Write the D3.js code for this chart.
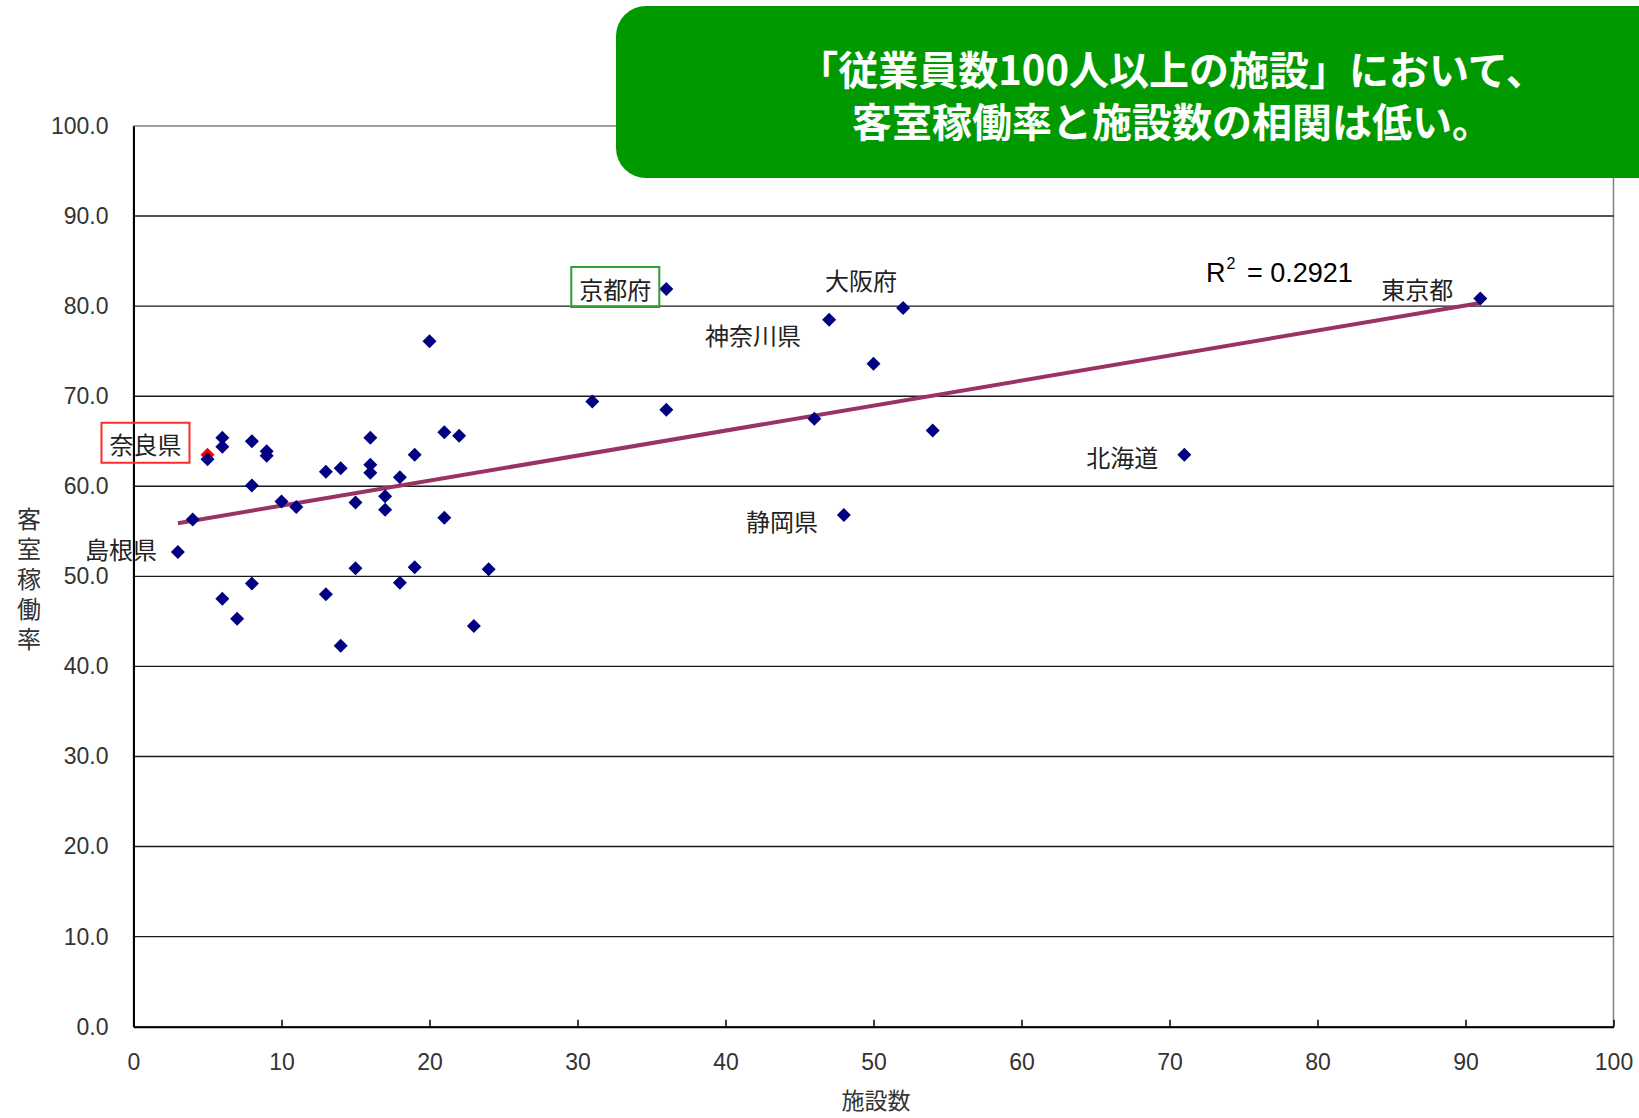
<!DOCTYPE html>
<html>
<head>
<meta charset="utf-8">
<script src="https://cdn.jsdelivr.net/npm/d3@7"></script>
<style>
  body { margin: 0; background: #fff; }
  svg { display: block; }
</style>
</head>
<body>
<div id="chart"></div>
<script>
// data (施設数, 客室稼働率)
const facilities = [5, 3, 4, 5, 6, 6, 6, 7, 8, 8, 8, 9, 9, 10, 11, 13, 13, 14, 14, 15, 15, 16, 16, 16,
    17, 17, 18, 18, 19, 19, 20, 21, 21, 22, 23, 24, 31, 36, 36, 46, 47, 48, 50, 52, 54, 71, 91];
const occupancy = [63.5, 52.7, 56.3, 63.0, 65.4, 64.4, 47.5, 45.3, 65.0, 60.1, 49.2, 63.9, 63.4, 58.3, 57.7, 61.6, 48.0, 62.0, 42.3, 58.2, 50.9, 65.4, 62.4, 61.5,
    58.9, 57.4, 61.0, 49.3, 63.5, 51.0, 76.1, 66.0, 56.5, 65.6, 44.5, 50.8, 69.4, 81.9, 68.5, 67.5, 78.5, 56.8, 73.6, 79.8, 66.2, 63.5, 80.85];
const prefNames = ["奈良県", "島根県", "", "", "", "", "", "", "", "", "", "", "", "", "", "", "", "", "", "", "", "", "", "",
    "", "", "", "", "", "", "", "", "", "", "", "", "", "京都府", "", "", "神奈川県", "静岡県", "", "大阪府", "", "北海道", "東京都"];

// trend line ends as drawn in the picture
const trendX = [3, 91];
const trendY = [55.9, 80.35];
const rSquared = "0.2921";

const xTicks = [0, 10, 20, 30, 40, 50, 60, 70, 80, 90, 100];
const yTicks = [0, 10, 20, 30, 40, 50, 60, 70, 80, 90, 100];

const titleLines = ["「従業員数100人以上の施設」において、", "客室稼働率と施設数の相関は低い。"];

// label placement relative to its point
const labelStyle = {
    "奈良県": { dx: -26, dy: -11, box: "#ff2a2a" },
    "島根県": { dx: -21, dy: -4 },
    "京都府": { dx: -15, dy: -1, box: "#2ba02b" },
    "神奈川県": { dx: -28, dy: 15 },
    "静岡県": { dx: -26, dy: 5 },
    "大阪府": { dx: -6, dy: -28 },
    "北海道": { dx: -26, dy: 1.5 },
    "東京都": { dx: -27, dy: -10 }
};

let svgWidth = 1639;
let svgHeight = 1118;
let plot = { left: 133.5, right: 1613.5, top: 126, bottom: 1026.7 };

let svg = d3.select("#chart")
    .append("svg")
    .attr("width", svgWidth)
    .attr("height", svgHeight);

let x = d3.scaleLinear().domain([0, 100]).range([plot.left, plot.right]);
let y = d3.scaleLinear().domain([0, 100]).range([plot.bottom, plot.top]);

const numFont = "'Liberation Sans', Arial, sans-serif";
const jpFont = "'Noto Sans CJK JP', sans-serif";

// plot border (top/right grey)
svg.append("rect")
    .attr("x", plot.left).attr("y", plot.top)
    .attr("width", plot.right - plot.left).attr("height", plot.bottom - plot.top)
    .attr("fill", "none").attr("stroke", "#808080").attr("stroke-width", 1.5);

// gridlines
svg.append("g")
    .selectAll("line")
    .data(yTicks.filter(d => d > 0 && d < 100))
    .join("line")
    .attr("x1", plot.left).attr("x2", plot.right)
    .attr("y1", d => y(d)).attr("y2", d => y(d))
    .attr("stroke", "#1a1a1a").attr("stroke-width", 1.4);

// y axis
let leftAxis = d3.axisLeft(y).tickValues(yTicks).tickSize(0).tickPadding(25).tickFormat(d3.format(".1f"));
let gy = svg.append("g")
    .attr("transform", `translate(${plot.left},0)`)
    .call(leftAxis);
gy.select(".domain").attr("stroke", "#000").attr("stroke-width", 2);
gy.selectAll("text")
    .attr("font-family", numFont).attr("font-size", 23).attr("fill", "#333");

// x axis, ticks point inward
let bottomAxis = d3.axisBottom(x).tickValues(xTicks).tickSizeInner(-7).tickSizeOuter(0).tickPadding(27);
let gx = svg.append("g")
    .attr("transform", `translate(0,${plot.bottom})`)
    .call(bottomAxis);
gx.select(".domain").attr("stroke", "#000").attr("stroke-width", 2);
gx.selectAll(".tick line").attr("stroke", "#000").attr("stroke-width", 1.5);
gx.selectAll("text")
    .attr("font-family", numFont).attr("font-size", 23).attr("fill", "#333");

// axis titles
svg.append("text")
    .attr("x", 876).attr("y", 1099)
    .attr("text-anchor", "middle").attr("dominant-baseline", "central")
    .attr("font-family", jpFont).attr("font-size", 23).attr("fill", "#333")
    .text("施設数");

svg.append("text")
    .attr("x", 29).attr("y", 507)
    .attr("writing-mode", "tb")
    .attr("letter-spacing", 6)
    .attr("font-family", jpFont).attr("font-size", 24).attr("fill", "#333")
    .text("客室稼働率");

// trend line
svg.append("line")
    .attr("x1", x(trendX[0])).attr("y1", y(trendY[0]))
    .attr("x2", x(trendX[1])).attr("y2", y(trendY[1]))
    .attr("stroke", "#993366").attr("stroke-width", 4);

// points
let points = facilities.map((f, i) => ({ f: f, o: occupancy[i], name: prefNames[i] }));

svg.append("g")
    .selectAll("path")
    .data(points)
    .join("path")
    .attr("d", "M0,-7L7,0L0,7L-7,0Z")
    .attr("transform", d => `translate(${x(d.f)},${y(d.o)})`)
    .attr("fill", d => d.name === "奈良県" ? "#ff0000" : "#000080");

// prefecture labels
let labelled = points.filter(d => d.name !== "");
let labels = svg.append("g")
    .selectAll("g")
    .data(labelled)
    .join("g")
    .attr("transform", d => `translate(${x(d.f) + labelStyle[d.name].dx},${y(d.o) + labelStyle[d.name].dy})`);

labels.append("text")
    .attr("text-anchor", "end").attr("dominant-baseline", "central")
    .attr("font-family", jpFont).attr("font-size", 24).attr("fill", "#222")
    .text(d => d.name);

labels.filter(d => labelStyle[d.name].box)
    .append("rect")
    .attr("x", d => -d.name.length * 24 - 8)
    .attr("y", -21)
    .attr("width", d => d.name.length * 24 + 16)
    .attr("height", 40)
    .attr("fill", "none")
    .attr("stroke", d => labelStyle[d.name].box)
    .attr("stroke-width", 2);

// R squared
let rText = svg.append("text")
    .attr("x", 1206).attr("y", 282)
    .attr("font-family", numFont).attr("font-size", 27).attr("fill", "#000");
rText.append("tspan").text("R");
rText.append("tspan").attr("font-size", 16).attr("dy", -13).attr("dx", 1).text("2");
rText.append("tspan").attr("dy", 13).attr("dx", 4).text(" = " + rSquared);

// title box
svg.append("rect")
    .attr("x", 616).attr("y", 6)
    .attr("width", 1100).attr("height", 172)
    .attr("rx", 30).attr("ry", 30)
    .attr("fill", "#009900");

let title = svg.append("text")
    .attr("y", 85)
    .attr("text-anchor", "middle")
    .attr("font-family", jpFont).attr("font-weight", "bold").attr("font-size", 40)
    .attr("fill", "#fff");
title.selectAll("tspan")
    .data(titleLines)
    .join("tspan")
    .attr("x", 1172)
    .attr("dy", (d, i) => i === 0 ? 0 : 52)
    .text(d => d);
</script>
</body>
</html>
